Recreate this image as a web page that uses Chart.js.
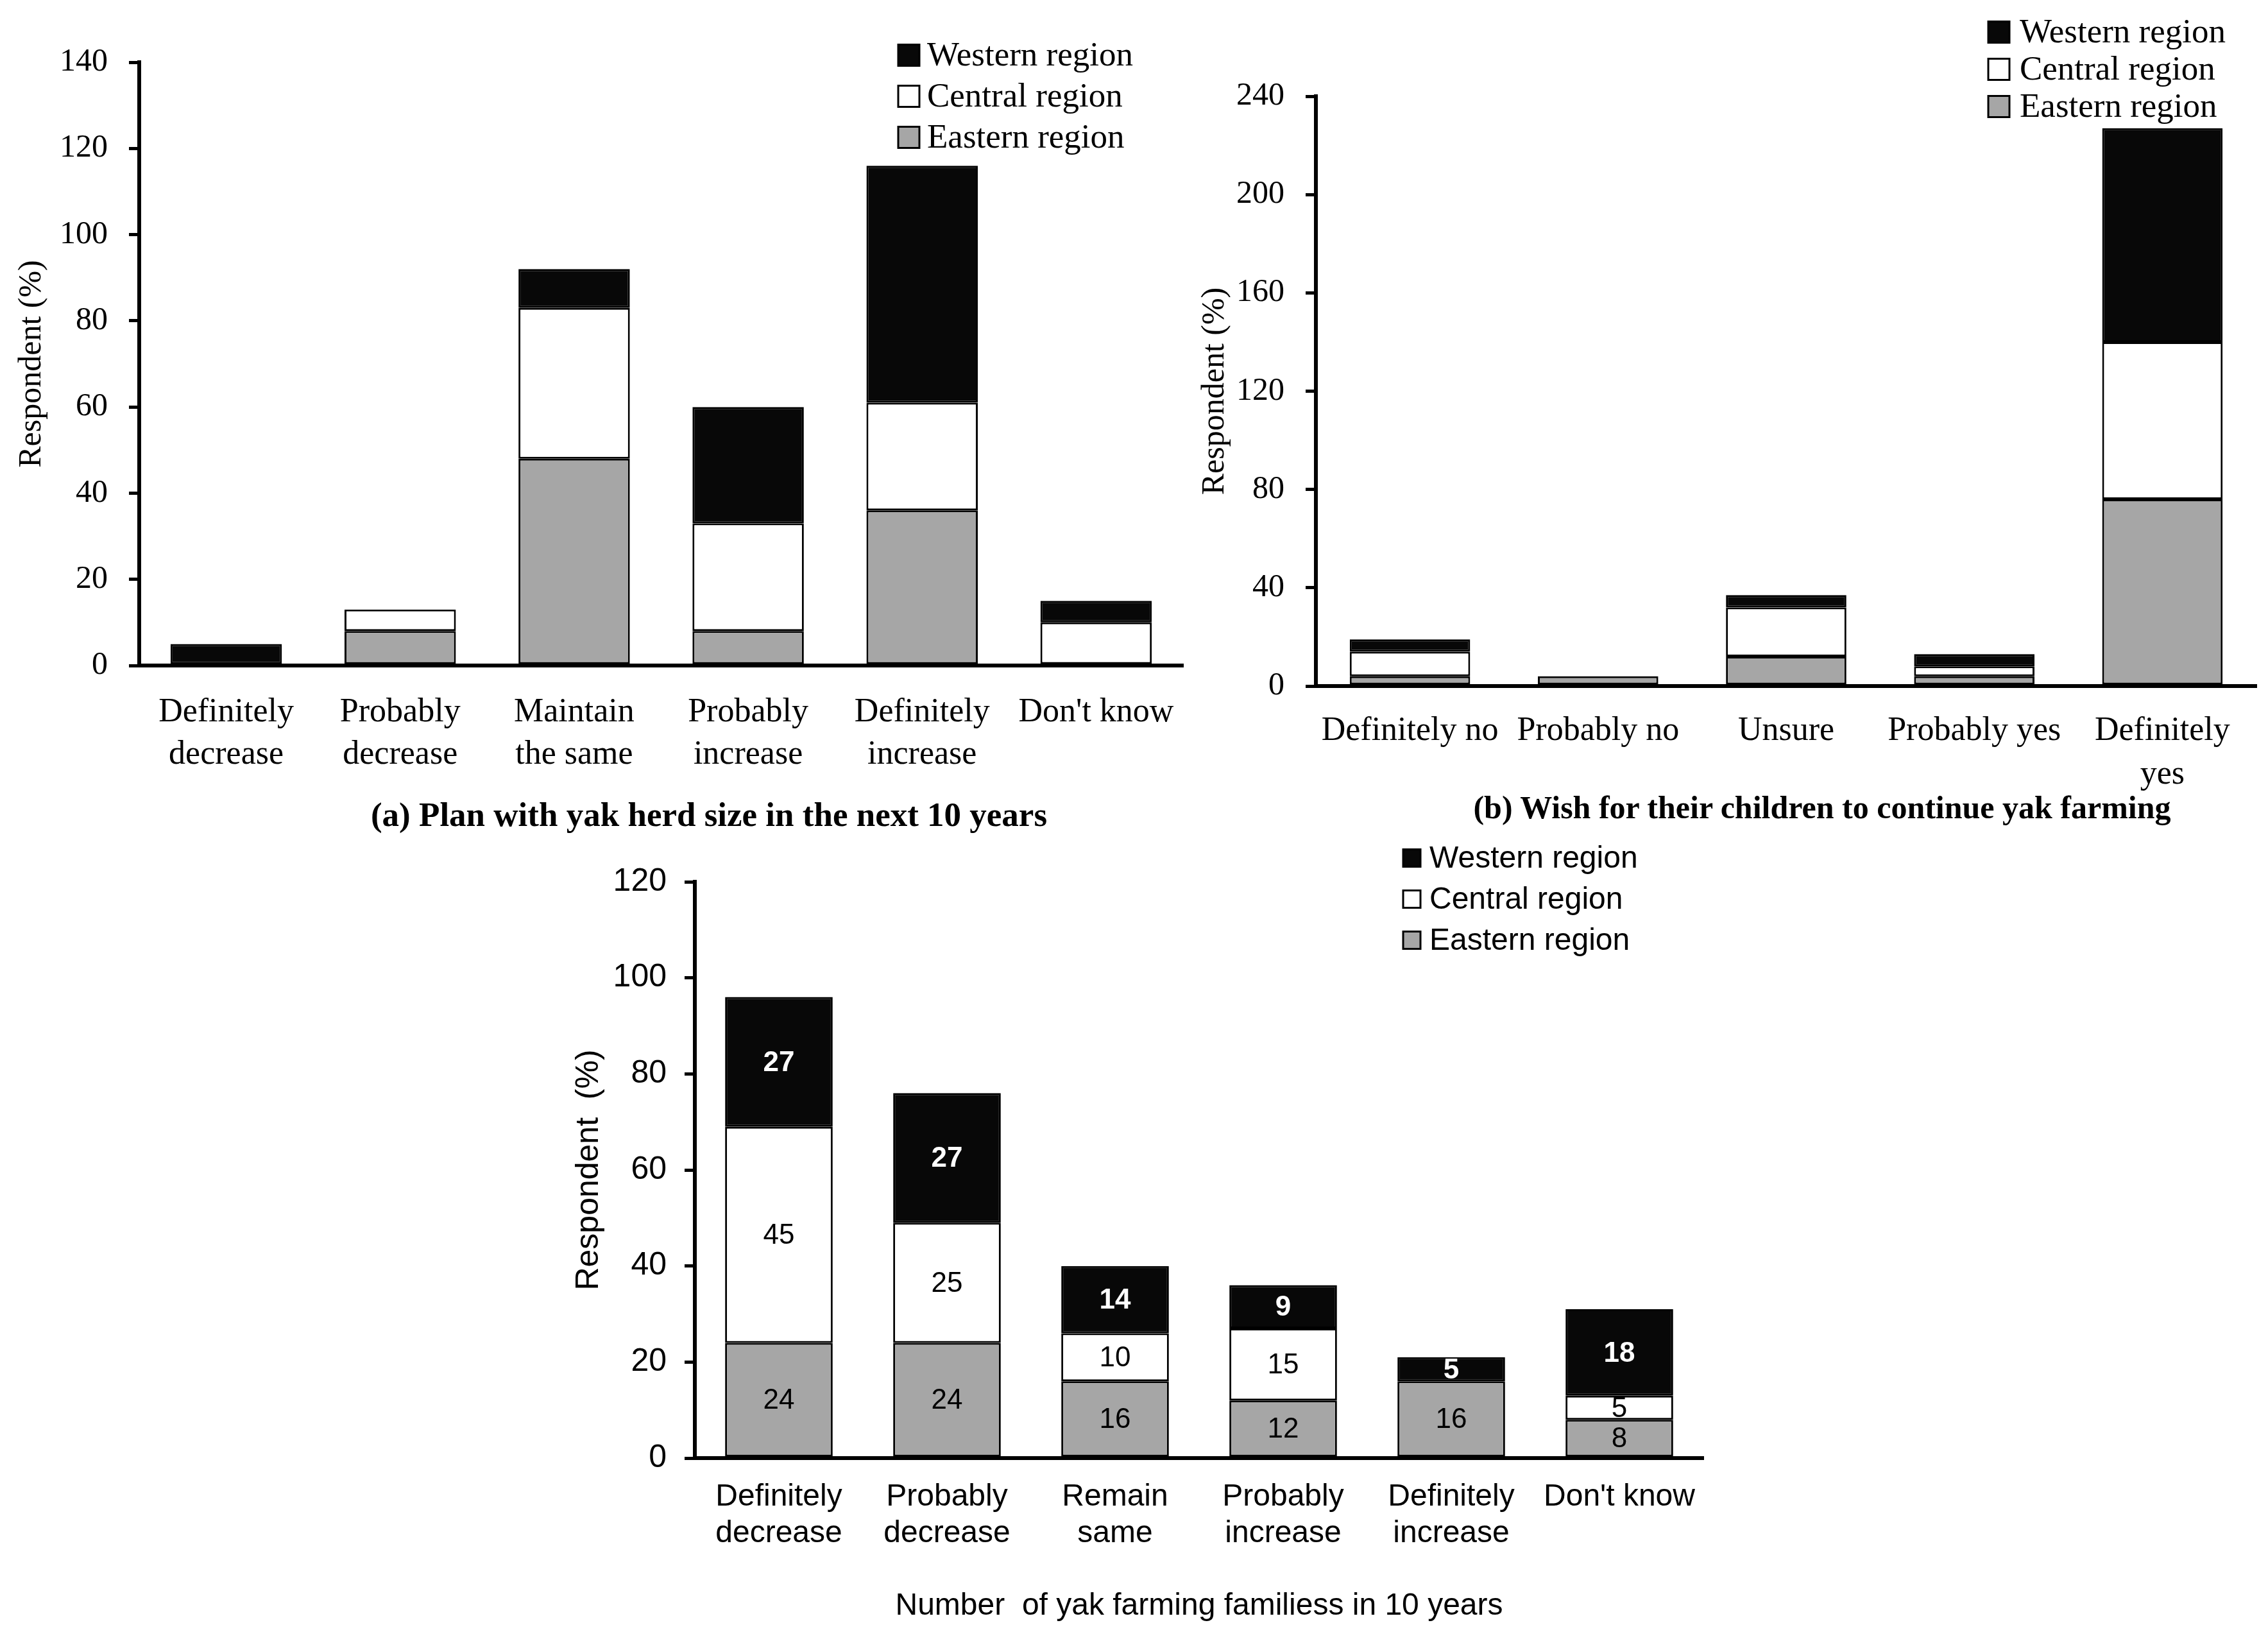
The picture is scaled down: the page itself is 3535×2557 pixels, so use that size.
<!DOCTYPE html>
<html>
<head>
<meta charset="utf-8">
<script src="https://cdn.jsdelivr.net/npm/chart.js@4.4.1/dist/chart.umd.min.js"></script>
<style>
  html, body { margin: 0; padding: 0; background: #fff; }
  body { width: 3535px; height: 2557px; position: relative; overflow: hidden; }
  canvas { position: absolute; }
  .cap { position: absolute; font: bold 50px "Liberation Serif"; line-height: 60px;
         text-align: center; white-space: nowrap; color: #000; }
</style>
</head>
<body>
<canvas id="chartA" width="1880" height="1230" style="left:0;top:0"></canvas>
<canvas id="chartB" width="1695" height="1240" style="left:1840px;top:0"></canvas>
<canvas id="chartC" width="1850" height="1267" style="left:850px;top:1290px"></canvas>
<div class="cap" style="left:305px;top:1239px;width:1600px;font-size:53px">(a) Plan with yak herd size in the next 10 years</div>
<div class="cap" style="left:2190px;top:1228px;width:1300px">(b) Wish for their children to continue yak farming</div>

<script>
// (a) plan with yak herd size
const catsA = [['Definitely', 'decrease'], ['Probably', 'decrease'], ['Maintain', 'the same'],
               ['Probably', 'increase'], ['Definitely', 'increase'], "Don't know"];
const eastA = [0, 8, 48, 8, 36, 0];
const centA = [0, 5, 35, 25, 25, 10];
const westA = [5, 0, 9, 27, 55, 5];

// (b) wish for children to continue
const catsB = ['Definitely no', 'Probably no', 'Unsure', 'Probably yes', ['Definitely', 'yes']];
const eastB = [4, 4, 12, 4, 76];
const centB = [10, 0, 20, 4, 64];
const westB = [5, 0, 5, 5, 87];

// (c) number of yak farming families
const catsC = [['Definitely', 'decrease'], ['Probably', 'decrease'], ['Remain', 'same'],
               ['Probably', 'increase'], ['Definitely', 'increase'], "Don't know"];
const eastC = [24, 24, 16, 12, 16, 8];
const centC = [45, 25, 10, 15, 0, 5];
const westC = [27, 27, 14, 9, 5, 18];

const SERIF = 'Liberation Serif';
const SANS = 'Liberation Sans';

// legend drawn as a column of boxes, top entry = last dataset
const regionLegend = {
  id: 'regionLegend',
  afterDraw(chart, args, o) {
    const ctx = chart.ctx;
    const sets = chart.data.datasets;
    ctx.save();
    ctx.font = o.font;
    ctx.textBaseline = 'middle';
    ctx.textAlign = 'left';
    let row = 0;
    for (let i = sets.length - 1; i >= 0; i--, row++) {
      const y = o.y + row * o.gap;
      ctx.fillStyle = sets[i].backgroundColor;
      ctx.fillRect(o.x, y - o.box / 2, o.box, o.box);
      ctx.lineWidth = 3;
      ctx.strokeStyle = '#000';
      ctx.strokeRect(o.x, y - o.box / 2, o.box, o.box);
      ctx.fillStyle = '#000';
      ctx.fillText(sets[i].label, o.textX, y + 2);
    }
    ctx.restore();
  }
};

// values written in the middle of each segment (panel c)
const segLabels = {
  id: 'segLabels',
  afterDatasetsDraw(chart) {
    const ctx = chart.ctx;
    ctx.save();
    ctx.textAlign = 'center';
    ctx.textBaseline = 'middle';
    chart.data.datasets.forEach((ds, i) => {
      ctx.font = ds.labelFont;
      ctx.fillStyle = ds.labelColor;
      chart.getDatasetMeta(i).data.forEach((bar, j) => {
        const v = ds.data[j];
        if (!v) return;
        const p = bar.getProps(['x', 'y', 'base'], true);
        ctx.fillText(String(v), p.x, (p.y + p.base) / 2 + 2);
      });
    });
    ctx.restore();
  }
};

function makeSets(east, cent, west, family) {
  const common = { borderColor: '#000', borderWidth: 3, borderSkipped: false };
  return [
    Object.assign({ label: 'Eastern region', data: east, backgroundColor: '#a6a6a6',
      labelColor: '#000', labelFont: '44px "' + family + '"' }, common),
    Object.assign({ label: 'Central region', data: cent, backgroundColor: '#ffffff',
      labelColor: '#000', labelFont: '44px "' + family + '"' }, common),
    Object.assign({ label: 'Western region', data: west, backgroundColor: '#080808',
      labelColor: '#fff', labelFont: 'bold 44px "' + family + '"' }, common)
  ];
}

function makeChart(id, labels, east, cent, west, c) {
  return new Chart(document.getElementById(id), {
    type: 'bar',
    data: { labels: labels, datasets: makeSets(east, cent, west, c.family) },
    options: {
      responsive: false,
      animation: false,
      devicePixelRatio: 1,
      layout: { padding: c.pad },
      datasets: { bar: { categoryPercentage: 1, barPercentage: 0.64 } },
      plugins: {
        legend: { display: false },
        tooltip: { enabled: false },
        regionLegend: c.legend
      },
      scales: {
        x: {
          stacked: true,
          grid: { display: false, drawTicks: false },
          border: { color: '#000', width: 6 },
          ticks: { color: '#000', padding: c.xPad, maxRotation: 0, autoSkip: false,
                   font: { family: c.family, size: c.xSize, lineHeight: c.xLine } },
          title: c.xTitle || { display: false },
          afterFit: s => { s.height = c.xHeight; }
        },
        y: {
          stacked: true,
          min: 0,
          max: c.max,
          ticks: { stepSize: c.step, color: '#000', padding: c.yPad,
                   font: { family: c.family, size: 50 } },
          grid: { drawOnChartArea: false, color: '#000', lineWidth: 5, tickLength: 16 },
          border: { color: '#000', width: 6 },
          title: { display: true, text: c.yTitle, color: '#000',
                   font: { family: c.family, size: 50, lineHeight: 1.2 },
                   padding: { top: c.yTitlePad, bottom: 0 } },
          afterFit: s => { s.width = c.yWidth; }
        }
      }
    },
    plugins: c.labels ? [regionLegend, segLabels] : [regionLegend]
  });
}

makeChart('chartA', catsA, eastA, centA, westA, {
  family: SERIF, max: 140, step: 20,
  pad: { left: 0, top: 97, right: 36, bottom: 0 },
  yWidth: 217, xHeight: 193, xPad: 40, xSize: 52, xLine: 1.27, yPad: 33,
  yTitle: 'Respondent (%)', yTitlePad: 20,
  legend: { x: 1400, y: 86, gap: 64, box: 33, textX: 1445, font: '53px "Liberation Serif"' }
});

makeChart('chartB', catsB, eastB, centB, westB, {
  family: SERIF, max: 240, step: 40,
  pad: { left: 0, top: 150, right: 18, bottom: 0 },
  yWidth: 211, xHeight: 171, xPad: 36, xSize: 52, xLine: 1.31, yPad: 33,
  yTitle: 'Respondent (%)', yTitlePad: 24,
  legend: { x: 1259, y: 50, gap: 58, box: 33, textX: 1308, font: '53px "Liberation Serif"' }
});

makeChart('chartC', catsC, eastC, centC, westC, {
  family: SANS, max: 120, step: 20, labels: true,
  pad: { left: 0, top: 84, right: 45, bottom: 0 },
  yWidth: 233, xHeight: 285, xPad: 32, xSize: 48, xLine: 1.19, yPad: 28,
  yTitle: 'Respondent  (%)', yTitlePad: 38,
  xTitle: { display: true, text: 'Number  of yak farming familiess in 10 years', color: '#000',
            font: { family: SANS, size: 48, lineHeight: 1.2 }, padding: { top: 0, bottom: 25 } },
  legend: { x: 1337, y: 47, gap: 64, box: 27, textX: 1378, font: '48px "Liberation Sans"' }
});
</script>
</body>
</html>
